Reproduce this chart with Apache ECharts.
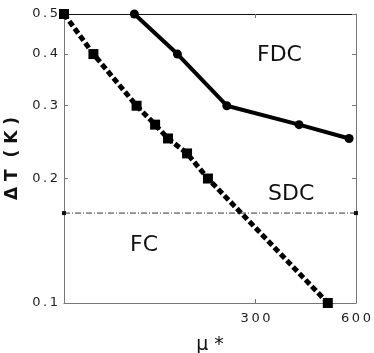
<!DOCTYPE html>
<html>
<head>
<meta charset="utf-8">
<script src="https://cdn.jsdelivr.net/npm/echarts@6/dist/echarts.min.js"></script>
<style>
  html, body { margin: 0; padding: 0; background: #fff; }
  #chart { width: 374px; height: 353px; }
</style>
</head>
<body>
<div id="chart"></div>
<script>
// dashed line (FC / SDC boundary)
let fcMu = [80, 98, 132, 150, 164, 187, 216, 494]
let fcT = [0.5, 0.4, 0.3, 0.27, 0.25, 0.23, 0.2, 0.1]
// solid line (SDC / FDC boundary)
let fdcMu = [130, 175, 246, 405, 572]
let fdcT = [0.5, 0.4, 0.3, 0.27, 0.25]
// horizontal dash-dot line
let flatMu = [80, 600]
let flatT = [0.165, 0.165]

let xTicks = [300, 600]
let yTicks = [0.1, 0.2, 0.3, 0.4, 0.5]

let pairs = (xs, ys) => xs.map((x, i) => [x, ys[i]])
// wide letter spacing like the original tick labels
let spaced = s => s.split('').join('\u2009')

let chart = echarts.init(document.getElementById('chart'))

let labelFont = {
  fontFamily: 'DejaVu Sans',
  fontSize: 13,
  color: '#222'
}

let option = {
  animation: false,
  grid: { left: 64, right: 18, top: 14, bottom: 50, outerBoundsMode: 'none', containLabel: false },
  xAxis: [
    {
      type: 'log',
      logBase: 10,
      min: 80,
      max: 600,
      name: 'μ *',
      nameLocation: 'middle',
      nameGap: 33,
      nameTextStyle: { fontFamily: 'DejaVu Sans', fontSize: 19, color: '#111' },
      axisLine: { lineStyle: { color: '#777', width: 1 } },
      axisTick: { inside: true, length: 4, customValues: xTicks, lineStyle: { color: '#777' } },
      axisLabel: Object.assign({ customValues: xTicks, margin: 9, formatter: v => spaced(String(Math.round(v))) }, labelFont),
      splitLine: { show: false }
    },
    {
      type: 'log',
      logBase: 10,
      min: 80,
      max: 600,
      position: 'top',
      axisLine: { lineStyle: { color: '#111', width: 1 } },
      axisTick: { inside: true, length: 4, customValues: xTicks, lineStyle: { color: '#777' } },
      axisLabel: { show: false },
      splitLine: { show: false }
    }
  ],
  yAxis: [
    {
      type: 'log',
      logBase: 10,
      min: 0.1,
      max: 0.5,
      name: 'Δ T  ( K )',
      nameLocation: 'middle',
      nameGap: 41,
      nameRotate: 90,
      nameTextStyle: { fontFamily: 'DejaVu Sans', fontSize: 17, fontWeight: 'bold', color: '#111' },
      axisLine: { lineStyle: { color: '#777', width: 1 } },
      axisTick: { inside: true, length: 4, customValues: yTicks, lineStyle: { color: '#777' } },
      axisLabel: Object.assign({ customValues: yTicks, margin: 6, formatter: v => spaced((Math.round(v * 10) / 10).toFixed(1)) }, labelFont),
      splitLine: { show: false }
    },
    {
      type: 'log',
      logBase: 10,
      min: 0.1,
      max: 0.5,
      position: 'right',
      axisLine: { lineStyle: { color: '#777', width: 1 } },
      axisTick: { inside: true, length: 4, customValues: yTicks, lineStyle: { color: '#777' } },
      axisLabel: { show: false },
      splitLine: { show: false }
    }
  ],
  series: [
    {
      type: 'line',
      data: pairs(flatMu, flatT),
      symbol: 'rect',
      symbolSize: 4,
      itemStyle: { color: '#111' },
      lineStyle: { color: '#333', width: 1, type: [6, 2, 1, 2] },
      z: 1
    },
    {
      type: 'line',
      data: pairs(fcMu, fcT),
      symbol: 'rect',
      symbolSize: 10,
      itemStyle: { color: '#000' },
      lineStyle: { color: '#000', width: 5, type: [6, 3] },
      z: 3
    },
    {
      type: 'line',
      data: pairs(fdcMu, fdcT),
      symbol: 'circle',
      symbolSize: 9,
      itemStyle: { color: '#000' },
      lineStyle: { color: '#000', width: 4 },
      z: 3
    }
  ],
  graphic: [
    { type: 'text', left: 257, top: 44, style: { text: 'FDC', font: '22px "DejaVu Sans"', fill: '#111' } },
    { type: 'text', left: 268, top: 183, style: { text: 'SDC', font: '22px "DejaVu Sans"', fill: '#111' } },
    { type: 'text', left: 130, top: 234, style: { text: 'FC', font: '22px "DejaVu Sans"', fill: '#111' } }
  ]
}

chart.setOption(option)
</script>
</body>
</html>
